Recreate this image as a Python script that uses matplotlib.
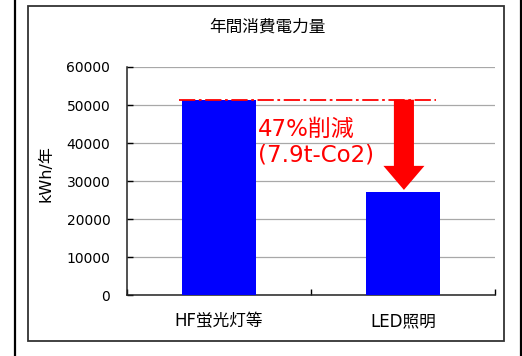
import matplotlib
matplotlib.use("Agg")
import matplotlib.pyplot as plt
from matplotlib.lines import Line2D
from matplotlib.patches import Rectangle, FancyArrow

categories = ["HF蛍光灯等", "LED照明"]
values = [51400, 27200]
yticks = [0, 10000, 20000, 30000, 40000, 50000, 60000]
title = "年間消費電力量"
ylabel = "kWh/年"
note1 = "47%削減"
note2 = "(7.9t-Co2)"

FAM = ["DejaVu Sans", "Noto Sans CJK JP"]
plt.rcParams["font.family"] = FAM

W, H = 522, 356
fig = plt.figure(figsize=(W / 100, H / 100), dpi=100)
fig.patch.set_facecolor("white")

# outer vertical lines and inner frame
fig.add_artist(Line2D([14.5 / W, 14.5 / W], [0, 1], color="black", lw=1.6))
fig.add_artist(Line2D([521 / W, 521 / W], [0, 1], color="black", lw=1.6))
fig.add_artist(Rectangle((27.5 / W, 1 - 341 / H), (504 - 27.5) / W, (341 - 6) / H,
                         fill=False, edgecolor="#333333", lw=1.3))

ax = fig.add_axes([127 / W, 1 - 295.3 / H, (495 - 127) / W, (295.3 - 67) / H])
x = list(range(len(categories)))
ax.bar(x, values, width=0.4, color="#0000FF", zorder=3)
ax.set_xlim(-0.5, 1.5)
ax.set_ylim(0, 60000)
ax.set_yticks(yticks)
ax.set_yticklabels([str(v) for v in yticks], fontsize=10)
ax.yaxis.grid(True, color="#a8a8a8", lw=0.9, zorder=0)
ax.set_axisbelow(True)
ax.set_xticks(x)
ax.set_xticklabels(categories, fontsize=12)
ax.set_xticks([-0.5, 0.5, 1.5], minor=True)
ax.tick_params(axis="x", which="major", length=0, pad=12)
ax.tick_params(axis="x", which="minor", direction="in", length=4, width=1)
ax.tick_params(axis="y", direction="in", length=4, width=1, pad=12)
for s in ["top", "right"]:
    ax.spines[s].set_visible(False)
for s in ["left", "bottom"]:
    ax.spines[s].set_color("#222222")
    ax.spines[s].set_linewidth(1.1)

ax.set_ylabel(ylabel, fontsize=11.5)
ax.yaxis.set_label_coords(-0.20, 0.535)

fig.text(267 / W, 1 - 27 / H, title, ha="center", va="center", fontsize=12)

# reference dash-dot line at first value
ax.plot([-0.22, 1.18], [values[0], values[0]], color="red", lw=1.3,
        linestyle=(0, (9, 2, 1.5, 2)), zorder=4)

# arrow
head_len = 24 / 228 * 60000
ax.add_patch(FancyArrow(1.005, values[0], 0, (values[1] + 500) - values[0],
                        width=0.109, head_width=0.223, head_length=head_len,
                        length_includes_head=True, color="red", lw=0, zorder=5))

ax.text(0.21, 43500, note1, color="red", fontsize=16.5, va="center", ha="left", zorder=6)
ax.text(0.21, 36900, note2, color="red", fontsize=16.5, va="center", ha="left", zorder=6)

fig.savefig("out.png", dpi=100, facecolor="white")
